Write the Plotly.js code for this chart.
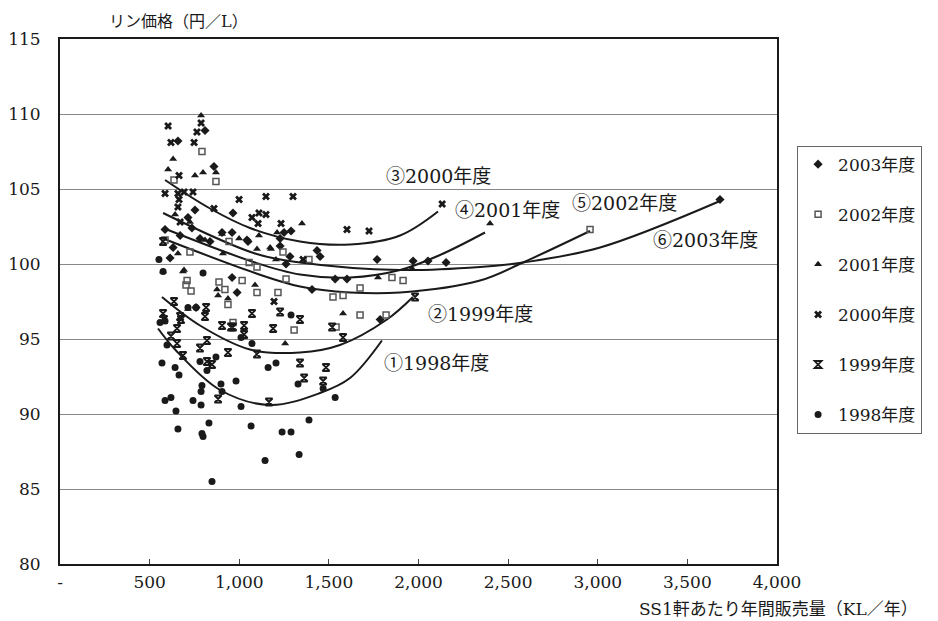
<!DOCTYPE html>
<html>
<head>
<meta charset="utf-8">
<script src="https://cdn.plot.ly/plotly-3.0.1.min.js"></script>
<style>
  html, body { margin: 0; padding: 0; background: #fff; }
  #chart { width: 938px; height: 621px; }
</style>
</head>
<body>
<div id="chart"></div>
<script>
// Station sales volume (KL / year) vs. retail price (yen / L), by fiscal year
const years = ['2003年度', '2002年度', '2001年度', '2000年度', '1999年度', '1998年度'];

const vol2003 = [809, 658, 859, 753, 714, 965, 904, 960, 1043, 631, 837, 1250, 1289, 1228, 1228, 1434, 1451, 1283, 1261, 1049, 1406, 759, 988, 1769, 1970, 2053, 1535, 1601, 1786, 3682, 2154, 960, 586, 670, 736, 781, 614];
const price2003 = [108.9, 108.2, 106.5, 103.6, 103.1, 103.4, 102.1, 102.1, 101.6, 101.1, 101.5, 102.1, 102.2, 101.7, 101.2, 100.9, 100.5, 100.5, 100.0, 101.5, 98.3, 97.1, 98.1, 100.3, 100.2, 100.2, 99.0, 99.0, 96.3, 104.3, 100.1, 99.1, 102.3, 101.9, 102.4, 101.7, 100.4];

const vol2002 = [792, 636, 870, 1244, 1389, 725, 943, 1055, 1099, 709, 703, 731, 887, 920, 937, 1099, 1216, 1261, 1306, 965, 1016, 1852, 1914, 1674, 1523, 1579, 1674, 2957, 1540, 1819, 586];
const price2002 = [107.5, 105.6, 105.5, 100.8, 100.3, 100.8, 101.5, 100.1, 99.8, 98.9, 98.6, 98.2, 98.8, 98.3, 97.3, 98.1, 98.1, 99.0, 95.6, 96.1, 98.9, 99.1, 98.9, 98.4, 97.8, 97.9, 96.6, 102.3, 95.8, 96.6, 101.6];

const vol2001 = [787, 631, 603, 753, 798, 870, 1350, 904, 1211, 1110, 1099, 1177, 1205, 575, 686, 876, 882, 937, 909, 1088, 1172, 999, 1256, 1579, 1774, 2399, 714, 692, 1964, 642, 725, 809, 658];
const price2001 = [109.9, 107.0, 106.3, 105.9, 106.1, 106.1, 102.7, 102.0, 102.1, 101.9, 101.0, 101.0, 100.3, 99.5, 99.5, 98.3, 97.9, 97.7, 100.7, 98.6, 101.1, 101.7, 94.7, 96.7, 99.1, 102.7, 97.0, 99.6, 99.7, 103.3, 102.8, 101.6, 100.7];

const vol2000 = [603, 619, 748, 764, 787, 586, 664, 658, 742, 859, 999, 1149, 1300, 1110, 1149, 1071, 1233, 664, 692, 1601, 1724, 2132, 1356, 1194, 670, 1105, 658];
const price2000 = [109.2, 108.1, 108.1, 108.8, 109.4, 104.7, 104.3, 103.8, 104.8, 103.7, 104.3, 104.5, 104.5, 103.4, 103.3, 103.1, 102.7, 105.9, 104.8, 102.3, 102.2, 104.0, 100.3, 97.5, 102.8, 102.7, 104.7];

const vol1999 = [636, 575, 580, 670, 675, 815, 809, 653, 619, 653, 820, 781, 904, 954, 965, 1027, 1027, 937, 686, 820, 848, 1071, 1189, 1339, 1228, 1099, 882, 1166, 1339, 1362, 1484, 1468, 1518, 1579, 1981, 575];
const price1999 = [97.5, 96.7, 96.3, 96.5, 96.3, 97.1, 96.5, 95.7, 95.2, 94.7, 94.9, 94.4, 95.9, 95.8, 95.8, 95.9, 95.3, 94.1, 93.9, 93.5, 93.3, 96.7, 95.7, 96.3, 96.8, 94.0, 91.0, 90.8, 93.4, 92.4, 93.1, 92.2, 95.8, 95.1, 97.8, 101.5];

const vol1998 = [552, 575, 798, 586, 558, 714, 759, 1010, 1289, 569, 642, 664, 586, 619, 647, 742, 787, 787, 792, 820, 870, 898, 904, 982, 1010, 1071, 1161, 1205, 1328, 658, 792, 798, 831, 1066, 1239, 1289, 1389, 1144, 1334, 848, 1468, 1535, 597, 781];
const price1998 = [100.3, 99.5, 99.4, 96.2, 96.1, 97.1, 97.1, 95.1, 96.6, 93.4, 93.1, 92.6, 90.9, 91.1, 90.2, 90.9, 90.6, 91.5, 91.9, 92.9, 93.8, 92.0, 91.5, 92.2, 90.5, 94.7, 93.1, 93.4, 92.0, 89.0, 88.7, 88.5, 89.4, 89.2, 88.8, 88.8, 89.6, 86.9, 87.3, 85.5, 91.7, 91.1, 94.6, 93.5];

// Trend curves for each year, traced as point lists
const trend1998X = [547, 642, 893, 1172, 1451, 1618, 1796];
const trend1998Y = [95.7, 94.3, 91.6, 90.6, 91.4, 92.4, 94.9];
const trend1999X = [569, 781, 1060, 1339, 1562, 1824, 1969];
const trend1999Y = [97.8, 95.9, 94.3, 94.1, 94.6, 96.3, 97.8];
const trend2000X = [586, 837, 1060, 1339, 1618, 1897, 2109];
const trend2000Y = [105.6, 103.7, 102.4, 101.5, 101.3, 101.9, 103.5];
const trend2001X = [575, 1088, 1339, 1618, 1897, 2120, 2371];
const trend2001Y = [102.4, 100.1, 99.3, 99.1, 99.6, 100.6, 102.1];
const trend2002X = [575, 1088, 1339, 1618, 1897, 2343, 2583, 2957];
const trend2002Y = [101.7, 99.4, 98.5, 98.1, 98.1, 98.9, 100.1, 102.2];
const trend2003X = [575, 1088, 1339, 1897, 2343, 2583, 3013, 3682];
const trend2003Y = [103.4, 100.7, 100.1, 99.6, 99.8, 100.1, 101.1, 104.2];

const curveLabels = ['①1998年度', '②1999年度', '③2000年度', '④2001年度', '⑤2002年度', '⑥2003年度'];
const curveLabelX = [2098, 2344, 2109, 2494, 3147, 3599];
const curveLabelY = [93.4, 96.7, 105.9, 103.6, 104.1, 101.6];

const xTickVals = [0, 500, 1000, 1500, 2000, 2500, 3000, 3500, 4000];
const xTickText = ['-', '500', '1,000', '1,500', '2,000', '2,500', '3,000', '3,500', '4,000'];

const serif = "'DejaVu Serif', 'Noto Sans CJK JP', serif";
const ink = '#1a1a1a';

const trends = [
  [trend1998X, trend1998Y], [trend1999X, trend1999Y], [trend2000X, trend2000Y],
  [trend2001X, trend2001Y], [trend2002X, trend2002Y], [trend2003X, trend2003Y]
];

const traces = trends.map(([x, y]) => ({
  x: x, y: y, type: 'scatter', mode: 'lines',
  line: { color: ink, width: 2, shape: 'spline', smoothing: 1 },
  showlegend: false, hoverinfo: 'skip'
}));

const series = [
  { x: vol2003, y: price2003, marker: { symbol: 'diamond', size: 7, color: ink } },
  { x: vol2002, y: price2002, marker: { symbol: 'square-open', size: 6, color: '#555', line: { width: 1.5 } } },
  { x: vol2001, y: price2001, marker: { symbol: 'triangle-up', size: 7, color: ink } },
  { x: vol2000, y: price2000, marker: { symbol: 'x', size: 7, color: ink } },
  { x: vol1999, y: price1999, marker: { symbol: 'hourglass-open', size: 7, color: ink, line: { width: 1.8 } } },
  { x: vol1998, y: price1998, marker: { symbol: 'circle', size: 7, color: ink } }
];

series.forEach((s, i) => {
  traces.push({
    x: s.x, y: s.y, type: 'scatter', mode: 'markers',
    name: years[i], legendgroup: 'g' + i,
    marker: s.marker
  });
});

const annotations = curveLabels.map((t, i) => ({
  x: curveLabelX[i], y: curveLabelY[i], xref: 'x', yref: 'y',
  text: t, showarrow: false,
  font: { family: serif, size: 19, color: ink }
}));

annotations.push({
  xref: 'paper', yref: 'paper', x: 0.065, xanchor: 'left', y: 1, yanchor: 'bottom', yshift: 6,
  text: 'リン価格（円／L）', showarrow: false,
  font: { family: serif, size: 16, color: ink }
});
annotations.push({
  xref: 'paper', yref: 'paper', x: 1.2, xanchor: 'right', y: 0, yanchor: 'top', yshift: -33,
  text: 'SS1軒あたり年間販売量（KL／年）', showarrow: false,
  font: { family: serif, size: 17, color: ink }
});

const layout = {
  width: 938, height: 621,
  margin: { l: 60, r: 161, t: 39, b: 57 },
  paper_bgcolor: '#fff', plot_bgcolor: '#fff',
  font: { family: serif, color: ink, size: 17 },
  xaxis: {
    range: [0, 4000], tickvals: xTickVals, ticktext: xTickText,
    ticks: 'inside', ticklen: 5, tickcolor: '#444',
    showgrid: false, zeroline: false,
    showline: true, mirror: true, linecolor: ink, linewidth: 2,
    ticklabelstandoff: 2,
    tickfont: { family: serif, size: 17, color: ink }
  },
  yaxis: {
    range: [80, 115], dtick: 5, tick0: 80,
    showgrid: true, gridcolor: '#888', gridwidth: 1,
    zeroline: false, ticks: '',
    showline: true, mirror: true, linecolor: ink, linewidth: 2,
    ticklabelstandoff: 14,
    tickfont: { family: serif, size: 17, color: ink }
  },
  legend: {
    x: 1.028, xanchor: 'left', y: 0.797, yanchor: 'top',
    bordercolor: '#666', borderwidth: 1, bgcolor: '#fff',
    traceorder: 'grouped', tracegroupgap: 25,
    font: { family: serif, size: 17, color: ink },
    itemwidth: 30
  },
  annotations: annotations,
  showlegend: true
};

Plotly.newPlot('chart', traces, layout, { displayModeBar: false, staticPlot: true });
</script>
</body>
</html>
